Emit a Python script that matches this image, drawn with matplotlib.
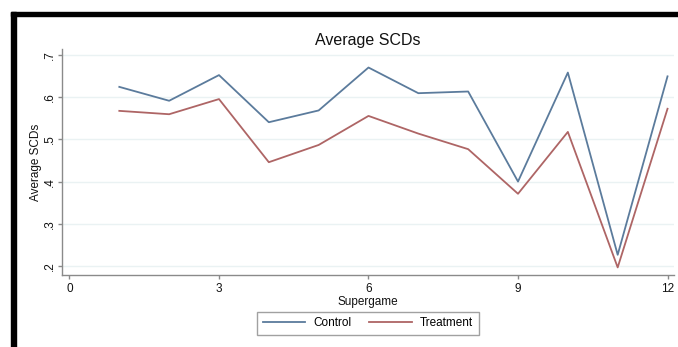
import matplotlib
matplotlib.use("Agg")
import matplotlib.pyplot as plt
from matplotlib.patches import Rectangle

plt.rcParams['font.family'] = ['Liberation Sans', 'DejaVu Sans']

supergame = [1, 2, 3, 4, 5, 6, 7, 8, 9, 10, 11, 12]
control = [0.625, 0.592, 0.653, 0.541, 0.569, 0.671, 0.610, 0.614, 0.400, 0.659, 0.226, 0.650]
treatment = [0.568, 0.560, 0.596, 0.446, 0.487, 0.556, 0.514, 0.477, 0.371, 0.518, 0.196, 0.573]
x_ticks = [0, 3, 6, 9, 12]
y_ticks = [0.2, 0.3, 0.4, 0.5, 0.6, 0.7]
y_ticklabels = ['.2', '.3', '.4', '.5', '.6', '.7']

W, H = 678, 347
fig = plt.figure(figsize=(W / 100, H / 100), dpi=100)
fig.patch.set_facecolor('white')

# heavy black frame along the top and left edges
fig.patches.append(Rectangle((11 / W, 1 - 16 / H), 1 - 11 / W, 4 / H,
                             transform=fig.transFigure, color='black', zorder=0))
fig.patches.append(Rectangle((11 / W, 0), 5 / W, 1 - 12 / H,
                             transform=fig.transFigure, color='black', zorder=0))

ax = fig.add_axes([62 / W, 1 - 275 / H, 612 / W, 226 / H])
ax.set_facecolor('white')

grid_col = '#eaf2f3'
for yv in y_ticks:
    ax.axhline(yv, color=grid_col, lw=1.0, zorder=0)

ax.plot(supergame, control, color='#5b7b9c', lw=1.3, label='Control', zorder=3)
ax.plot(supergame, treatment, color='#ae6565', lw=1.3, label='Treatment', zorder=3)

ax.set_xlim(-0.15, 12.13)
ax.set_ylim(0.178, 0.715)
ax.set_xticks(x_ticks)
ax.set_xticklabels([str(v) for v in x_ticks])
ax.set_yticks(y_ticks)
ax.set_yticklabels(y_ticklabels, rotation=90, va='center')

spine_col = '#8a8a8a'
for side in ('top', 'right'):
    ax.spines[side].set_visible(False)
for side in ('left', 'bottom'):
    ax.spines[side].set_color(spine_col)
    ax.spines[side].set_linewidth(1.0)
ax.tick_params(axis='both', colors=spine_col, labelcolor='#111111',
               length=3, width=1.0, labelsize=8.5)
ax.tick_params(axis='y', pad=1.5)
ax.tick_params(axis='x', pad=2.5)

ax.set_title('Average SCDs', fontsize=11.5, color='#111111', pad=3)
ax.set_xlabel('Supergame', fontsize=8.5, color='#111111', labelpad=1)
ax.set_ylabel('Average SCDs', fontsize=8.5, color='#111111', labelpad=1)

leg = fig.legend(loc='center', bbox_to_anchor=(368 / W, 1 - 323.5 / H), ncol=2,
                 frameon=True, fancybox=False, fontsize=8.5, handlelength=3.6,
                 columnspacing=1.5, handletextpad=0.7, borderpad=0.45)
leg.get_frame().set_edgecolor('#8a8a8a')
leg.get_frame().set_linewidth(1.0)

fig.savefig('out.png', dpi=100, facecolor='white')
